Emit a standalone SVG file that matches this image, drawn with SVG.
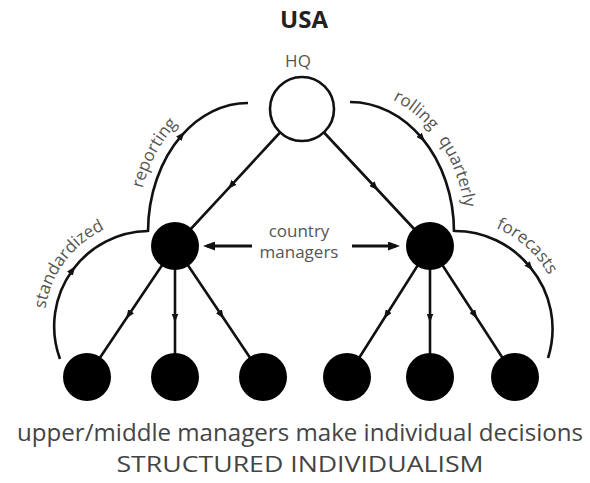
<svg xmlns="http://www.w3.org/2000/svg" xmlns:xlink="http://www.w3.org/1999/xlink" width="590" height="483" viewBox="0 0 590 483">
<style>
.ln{fill:none;stroke:#111;stroke-width:2.6;marker-mid:url(#ah)}
.cm{fill:none;stroke:#111;stroke-width:3.2;marker-end:url(#big)}
.lbl{font-family:"Open Sans","Noto Sans",sans-serif;font-size:17px;fill:#555}
.blk{fill:#000}
.title{font-family:"Open Sans","Noto Sans",sans-serif;font-weight:bold;font-size:24px;fill:#222}
.bot{font-family:"Open Sans","Noto Sans",sans-serif;fill:#444}
</style>
<defs>
<marker id="ah" viewBox="0 0 9 7" refX="4.5" refY="3.5" markerWidth="9" markerHeight="7" markerUnits="userSpaceOnUse" orient="auto"><path d="M0,0 L9,3.5 L0,7 z" fill="#111"/></marker>
<marker id="big" viewBox="0 0 12 9" refX="8" refY="4.5" markerWidth="12" markerHeight="9" markerUnits="userSpaceOnUse" orient="auto"><path d="M0,0 L12,4.5 L0,9 z" fill="#111"/></marker>
<path id="tpRep" d="M137,232 A111,140 0 0,1 248,92"/>
<path id="tpStd" d="M47.6,352.4 A106,106 0 0,1 159.2,219.4"/>
<path id="tpRoll" d="M350,90 A116,142 0 0,1 466,232"/>
<path id="tpFore" d="M436.4,221.6 A107,107 0 0,1 560.4,345.6"/>
</defs>
<rect width="590" height="483" fill="#fff"/>
<text class="title" x="304" y="28" text-anchor="middle">USA</text>
<g id="connectors">
<polyline class="ln" points="280,132.5 231,185.6 175,246"/>
<polyline class="ln" points="324,132.5 375,187 430,246"/>
<polyline class="ln" points="175,246 128.6,315 87,377"/>
<polyline class="ln" points="175,246 175,318 175,377"/>
<polyline class="ln" points="175,246 221.4,315 263,377"/>
<polyline class="ln" points="430,246 386.3,315 347,377"/>
<polyline class="ln" points="430,246 430,318 430,377"/>
<polyline class="ln" points="430,246 474.8,315 515,377"/>
<path class="ln" d="M148,232 A100,129 0 0,1 181.7,135.4 A100,129 0 0,1 248,103"/>
<path class="ln" d="M60,359 A95,95 0 0,1 72.6,270 A95,95 0 0,1 148,231"/>
<path class="ln" d="M350,102 A104,130 0 0,1 422,138.2 A104,130 0 0,1 454,232"/>
<path class="ln" d="M454,231 A96,96 0 0,1 529.9,266.9 A96,96 0 0,1 548,358"/>
<line class="cm" x1="252" y1="246" x2="207" y2="246"/>
<line class="cm" x1="352" y1="246" x2="396" y2="246"/>
</g>
<g id="labels">
<text class="lbl"><textPath xlink:href="#tpRep" href="#tpRep" startOffset="41%" text-anchor="middle">reporting</textPath></text>
<text class="lbl"><textPath xlink:href="#tpStd" href="#tpStd" startOffset="47%" text-anchor="middle">standardized</textPath></text>
<text class="lbl"><textPath xlink:href="#tpRoll" href="#tpRoll" startOffset="34%" text-anchor="middle">rolling</textPath></text>
<text class="lbl"><textPath xlink:href="#tpRoll" href="#tpRoll" startOffset="70%" text-anchor="middle">quarterly</textPath></text>
<text class="lbl"><textPath xlink:href="#tpFore" href="#tpFore" startOffset="47%" text-anchor="middle">forecasts</textPath></text>
<text class="lbl" x="299" y="237" text-anchor="middle" font-size="15">country</text>
<text class="lbl" x="299" y="258" text-anchor="middle" font-size="15">managers</text>
</g>
<g id="hq">
<text class="lbl" x="298" y="67" text-anchor="middle" font-size="16">HQ</text>
<circle cx="302" cy="109" r="32" fill="#fff" stroke="#111" stroke-width="2.6"/>
</g>
<g id="cm-left"><circle class="blk" cx="175" cy="246" r="24"/></g>
<g id="cm-right"><circle class="blk" cx="430" cy="246" r="24"/></g>
<g id="m1"><circle class="blk" cx="87" cy="377" r="24"/></g>
<g id="m2"><circle class="blk" cx="175" cy="377" r="24"/></g>
<g id="m3"><circle class="blk" cx="263" cy="377" r="24"/></g>
<g id="m4"><circle class="blk" cx="347" cy="377" r="24"/></g>
<g id="m5"><circle class="blk" cx="430" cy="377" r="24"/></g>
<g id="m6"><circle class="blk" cx="515" cy="377" r="24"/></g>
<text class="bot" x="300" y="441" text-anchor="middle" font-size="23" textLength="566" lengthAdjust="spacingAndGlyphs">upper/middle managers make individual decisions</text>
<text class="bot" x="300" y="472" text-anchor="middle" font-size="22" fill="#222" textLength="367" lengthAdjust="spacingAndGlyphs">STRUCTURED INDIVIDUALISM</text>
</svg>
